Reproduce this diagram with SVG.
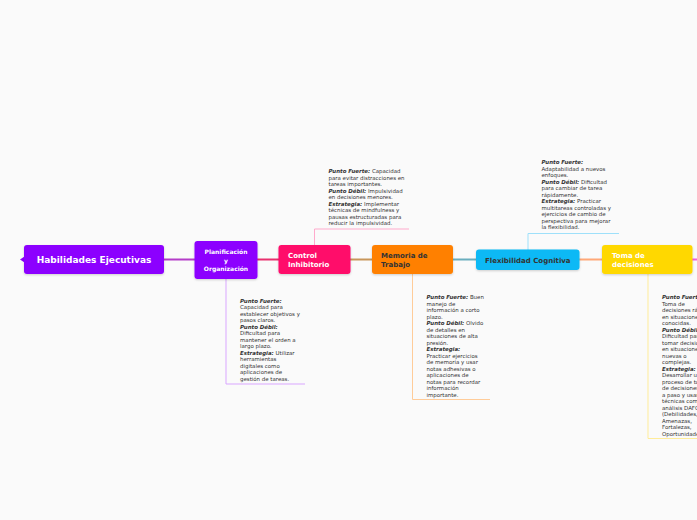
<svg xmlns="http://www.w3.org/2000/svg" width="697" height="520" viewBox="0 0 697 520">
<defs>
<filter id="sh" x="-10%" y="-20%" width="120%" height="150%"><feDropShadow dx="0" dy="1" stdDeviation="1" flood-color="#000" flood-opacity="0.18"/></filter>
<style>
.nt{font-family:"DejaVu Sans",Verdana,sans-serif;font-weight:bold;}
.note{font-family:"DejaVu Sans",Verdana,sans-serif;font-size:5.45px;fill:#333;}
.lb{font-weight:bold;font-style:italic;}
.con{fill:none;stroke-width:2;}
.nl{fill:none;stroke-width:1;}
</style>
</defs>
<rect width="697" height="520" fill="#fafafa"/>
<g id="connectors">
<line class="con" x1="164" y1="259.5" x2="195" y2="259.5" stroke="#b43cc8"/>
<line class="con" x1="257" y1="259.5" x2="279" y2="259.5" stroke="#e8306e"/>
<line class="con" x1="350" y1="259.5" x2="372" y2="259.5" stroke="#c8965a"/>
<line class="con" x1="453" y1="259.5" x2="476" y2="259.5" stroke="#6aaebe"/>
<line class="con" x1="579" y1="259.5" x2="602" y2="259.5" stroke="#ffa878"/>
<line class="con" x1="692" y1="259.5" x2="697" y2="259.5" stroke="#f060e0"/>
<polyline class="nl" points="226,279 226,384 305,384" stroke="#d9a6ff"/>
<polyline class="nl" points="314.5,245 314.5,229 409,229" stroke="#ffaacc"/>
<polyline class="nl" points="412.5,274 412.5,399.5 490,399.5" stroke="#ffcc99"/>
<polyline class="nl" points="528,250 528,233.5 619,233.5" stroke="#9ee0fa"/>
<polyline class="nl" points="648,274 648,438.5 697,438.5" stroke="#ffec99"/>
</g>
<g id="main">
<polygon points="24.5,256.5 20,259.5 24.5,262.5" fill="#8c00ff"/>
<rect x="24" y="245" width="140" height="29" rx="3" fill="#8c00ff" filter="url(#sh)"/>
<text class="nt" x="94" y="263" font-size="9" fill="#fff" text-anchor="middle">Habilidades Ejecutivas</text>
</g>
<g id="planificacion">
<rect x="194.5" y="241" width="63" height="38" rx="3" fill="#8c00ff" filter="url(#sh)"/>
<text class="nt" font-size="6" fill="#fff" text-anchor="middle"><tspan x="226" y="254">Planificación</tspan><tspan x="226" y="262.5">y</tspan><tspan x="226" y="271">Organización</tspan></text>
</g>
<g id="control">
<rect x="278.5" y="245" width="72" height="29" rx="3" fill="#ff0a6a" filter="url(#sh)"/>
<text class="nt" font-size="7" fill="#fff"><tspan x="288" y="258">Control</tspan><tspan x="288" y="267">Inhibitorio</tspan></text>
</g>
<g id="memoria">
<rect x="372" y="245" width="81" height="29" rx="3" fill="#ff8000" filter="url(#sh)"/>
<text class="nt" font-size="7" fill="#333"><tspan x="381" y="258">Memoria de</tspan><tspan x="381" y="267">Trabajo</tspan></text>
</g>
<g id="flexibilidad">
<rect x="476" y="249.5" width="103.5" height="20.5" rx="3" fill="#0bb9f5" filter="url(#sh)"/>
<text class="nt" x="527.8" y="262.5" font-size="7" fill="#333" text-anchor="middle">Flexibilidad Cognitiva</text>
</g>
<g id="toma">
<rect x="602" y="245" width="90.5" height="29" rx="3" fill="#ffd800" filter="url(#sh)"/>
<text class="nt" font-size="7" fill="#fff"><tspan x="612" y="258">Toma de</tspan><tspan x="612" y="267">decisiones</tspan></text>
</g>
<g id="note-control">
<text class="note">
<tspan x="328.5" y="173"><tspan class="lb">Punto Fuerte:</tspan> Capacidad</tspan>
<tspan x="328.5" y="179.5">para evitar distracciones en</tspan>
<tspan x="328.5" y="186">tareas importantes.</tspan>
<tspan x="328.5" y="192.5"><tspan class="lb">Punto Débil:</tspan> Impulsividad</tspan>
<tspan x="328.5" y="199">en decisiones menores.</tspan>
<tspan x="328.5" y="205.5"><tspan class="lb">Estrategia:</tspan> Implementar</tspan>
<tspan x="328.5" y="212">técnicas de mindfulness y</tspan>
<tspan x="328.5" y="218.5">pausas estructuradas para</tspan>
<tspan x="328.5" y="225">reducir la impulsividad.</tspan>
</text>
</g>
<g id="note-planificacion">
<text class="note">
<tspan x="240" y="302.5" class="lb">Punto Fuerte:</tspan>
<tspan x="240" y="309">Capacidad para</tspan>
<tspan x="240" y="315.5">establecer objetivos y</tspan>
<tspan x="240" y="322">pasos claros.</tspan>
<tspan x="240" y="328.5" class="lb">Punto Débil:</tspan>
<tspan x="240" y="335">Dificultad para</tspan>
<tspan x="240" y="341.5">mantener el orden a</tspan>
<tspan x="240" y="348">largo plazo.</tspan>
<tspan x="240" y="354.5"><tspan class="lb">Estrategia:</tspan> Utilizar</tspan>
<tspan x="240" y="361">herramientas</tspan>
<tspan x="240" y="367.5">digitales como</tspan>
<tspan x="240" y="374">aplicaciones de</tspan>
<tspan x="240" y="380.5">gestión de tareas.</tspan>
</text>
</g>
<g id="note-memoria">
<text class="note">
<tspan x="426.5" y="299"><tspan class="lb">Punto Fuerte:</tspan> Buen</tspan>
<tspan x="426.5" y="305.5">manejo de</tspan>
<tspan x="426.5" y="312">información a corto</tspan>
<tspan x="426.5" y="318.5">plazo.</tspan>
<tspan x="426.5" y="325"><tspan class="lb">Punto Débil:</tspan> Olvido</tspan>
<tspan x="426.5" y="331.5">de detalles en</tspan>
<tspan x="426.5" y="338">situaciones de alta</tspan>
<tspan x="426.5" y="344.5">presión.</tspan>
<tspan x="426.5" y="351" class="lb">Estrategia:</tspan>
<tspan x="426.5" y="357.5">Practicar ejercicios</tspan>
<tspan x="426.5" y="364">de memoria y usar</tspan>
<tspan x="426.5" y="370.5">notas adhesivas o</tspan>
<tspan x="426.5" y="377">aplicaciones de</tspan>
<tspan x="426.5" y="383.5">notas para recordar</tspan>
<tspan x="426.5" y="390">información</tspan>
<tspan x="426.5" y="396.5">importante.</tspan>
</text>
</g>
<g id="note-flexibilidad">
<text class="note">
<tspan x="541.5" y="164" class="lb">Punto Fuerte:</tspan>
<tspan x="541.5" y="170.5">Adaptabilidad a nuevos</tspan>
<tspan x="541.5" y="177">enfoques.</tspan>
<tspan x="541.5" y="183.5"><tspan class="lb">Punto Débil:</tspan> Dificultad</tspan>
<tspan x="541.5" y="190">para cambiar de tarea</tspan>
<tspan x="541.5" y="196.5">rápidamente.</tspan>
<tspan x="541.5" y="203"><tspan class="lb">Estrategia:</tspan> Practicar</tspan>
<tspan x="541.5" y="209.5">multitareas controladas y</tspan>
<tspan x="541.5" y="216">ejercicios de cambio de</tspan>
<tspan x="541.5" y="222.5">perspectiva para mejorar</tspan>
<tspan x="541.5" y="229">la flexibilidad.</tspan>
</text>
</g>
<g id="note-toma">
<text class="note">
<tspan x="662" y="299" class="lb">Punto Fuerte:</tspan>
<tspan x="662" y="305.5">Toma de</tspan>
<tspan x="662" y="312">decisiones rápidas</tspan>
<tspan x="662" y="318.5">en situaciones</tspan>
<tspan x="662" y="325">conocidas.</tspan>
<tspan x="662" y="331.5" class="lb">Punto Débil:</tspan>
<tspan x="662" y="338">Dificultad para</tspan>
<tspan x="662" y="344.5">tomar decisiones</tspan>
<tspan x="662" y="351">en situaciones</tspan>
<tspan x="662" y="357.5">nuevas o</tspan>
<tspan x="662" y="364">complejas.</tspan>
<tspan x="662" y="370.5" class="lb">Estrategia:</tspan>
<tspan x="662" y="377">Desarrollar un</tspan>
<tspan x="662" y="383.5">proceso de toma</tspan>
<tspan x="662" y="390">de decisiones paso</tspan>
<tspan x="662" y="396.5">a paso y usar</tspan>
<tspan x="662" y="403">técnicas como el</tspan>
<tspan x="662" y="409.5">análisis DAFO</tspan>
<tspan x="662" y="416">(Debilidades,</tspan>
<tspan x="662" y="422.5">Amenazas,</tspan>
<tspan x="662" y="429">Fortalezas,</tspan>
<tspan x="662" y="435.5">Oportunidades).</tspan>
</text>
</g>
</svg>
